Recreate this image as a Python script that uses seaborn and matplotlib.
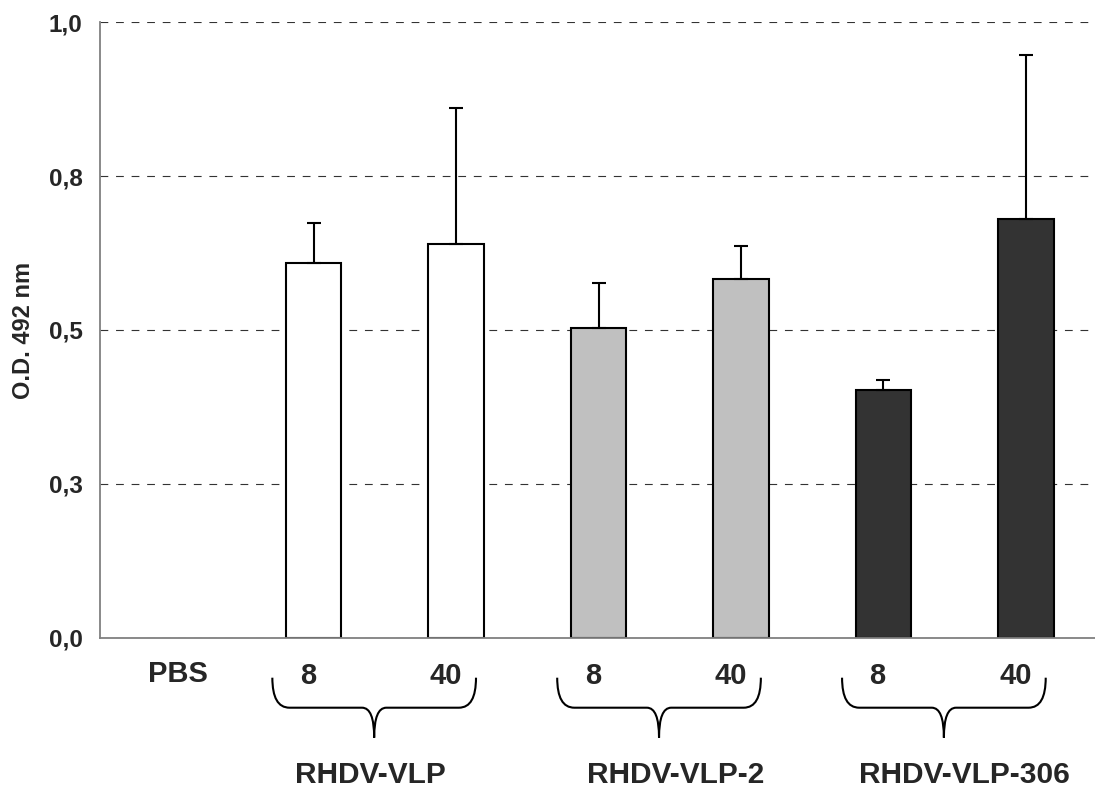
import numpy as np
import pandas as pd
import matplotlib
matplotlib.use("Agg")
import matplotlib.pyplot as plt
from matplotlib.path import Path
from matplotlib.patches import PathPatch
import seaborn as sns

# ---- data ---------------------------------------------------------------
groups = ["RHDV-VLP", "RHDV-VLP-2", "RHDV-VLP-306"]
doses = ["8", "40"]
control = "PBS"
od_mean = [0.608, 0.639, 0.503, 0.582, 0.402, 0.680]
od_sd = [0.065, 0.222, 0.073, 0.054, 0.016, 0.266]
y_ticks = [0.0, 0.25, 0.5, 0.75, 1.0]
y_tick_labels = ["0,0", "0,3", "0,5", "0,8", "1,0"]
y_title = "O.D. 492 nm"

group_colors = {"RHDV-VLP": "#ffffff", "RHDV-VLP-2": "#c0c0c0", "RHDV-VLP-306": "#333333"}

# ---- table --------------------------------------------------------------
rows = []
for gi, g in enumerate(groups):
    for di, d in enumerate(doses):
        rows.append({"sample": f"{g} {d}", "group": g, "dose": d})
df = pd.DataFrame(rows)
df["od"] = od_mean
df["sd"] = od_sd
order = [control] + list(df["sample"])

# ---- style --------------------------------------------------------------
sns.set_style("white")
plt.rcParams["font.family"] = ["Liberation Sans", "DejaVu Sans"]
plt.rcParams["font.weight"] = "bold"

fig = plt.figure(figsize=(10.95, 7.92), dpi=100)
ax = fig.add_axes([100 / 1095, 154.3 / 792, 997 / 1095, 615.5 / 792])

sns.barplot(data=df, x="sample", y="od", order=order, hue="group",
            palette=group_colors, dodge=False, width=0.39,
            edgecolor="black", linewidth=1.5, errorbar=None,
            legend=False, ax=ax, zorder=3)

# upper-only error bars
xpos = [order.index(s) for s in df["sample"]]
ax.errorbar(xpos, df["od"], yerr=[np.zeros(len(df)), df["sd"]], fmt="none",
            ecolor="black", elinewidth=1.5, capsize=5, capthick=1.5, zorder=4)

# axes
ax.set_xlim(-0.5, len(order) - 0.5)
ax.set_ylim(0, 1.0)
ax.set_yticks(y_ticks)
ax.set_yticklabels(y_tick_labels, fontsize=17.5, fontweight="bold")
ax.set_xticks(np.arange(-0.5, len(order), 1.0))
ax.set_xticklabels([])
ax.set_xlabel("")
ax.set_ylabel(y_title, fontsize=17, fontweight="bold")
ax.yaxis.set_label_coords(-76 / 997, 0.5)
ax.yaxis.label.set_va("center")

ax.grid(axis="y", color="#333333", linestyle=(0, (7, 7)), linewidth=0.8, zorder=0)
ax.set_axisbelow(True)
for side in ["top", "right"]:
    ax.spines[side].set_visible(False)
for side in ["left", "bottom"]:
    ax.spines[side].set_color("#808080")
    ax.spines[side].set_linewidth(1.3)
    ax.spines[side].set_zorder(5)
ax.tick_params(axis="both", direction="out", length=4.5, width=1.1,
               color="#808080", pad=8)
ax.tick_params(axis="x", length=5)

# ---- category labels ----------------------------------------------------
px = 1 / 615.5  # one pixel in data units (vertical)
label_kw = dict(ha="center", va="center", fontsize=21, fontweight="bold", clip_on=False)
ax.text(0.05, -36 * px, control, **label_kw)
for i, s in enumerate(df["sample"]):
    dose = df["dose"].iloc[i]
    shift = -0.04 if dose == doses[0] else -0.07
    ax.text(xpos[i] + shift, -38 * px, dose, **label_kw)


def brace(ax, left, right, tip, top, mid, bottom, rx=0.12, rt=0.085):
    verts = [(left, top), (left, mid), (left + rx, mid),
             (tip - rt, mid), (tip, mid), (tip, bottom),
             (tip, mid), (tip + rt, mid),
             (right - rx, mid), (right, mid), (right, top)]
    codes = [Path.MOVETO, Path.CURVE3, Path.CURVE3,
             Path.LINETO, Path.CURVE3, Path.CURVE3,
             Path.CURVE3, Path.CURVE3,
             Path.LINETO, Path.CURVE3, Path.CURVE3]
    ax.add_patch(PathPatch(Path(verts, codes), facecolor="none",
                           edgecolor="black", linewidth=1.5, clip_on=False))


group_label_shift = [-0.1, 0.04, 0.07]
group_kw = dict(label_kw, fontsize=21.5)
for gi, g in enumerate(groups):
    a, b = xpos[2 * gi], xpos[2 * gi + 1]
    left, right = a - 0.29, b + 0.14
    tip = (left + right) / 2
    brace(ax, left, right, tip, -40 * px, -70 * px, -100 * px)
    ax.text((a + b) / 2 + group_label_shift[gi], -137 * px, g, **group_kw)

fig.savefig("out.png", dpi=100)
